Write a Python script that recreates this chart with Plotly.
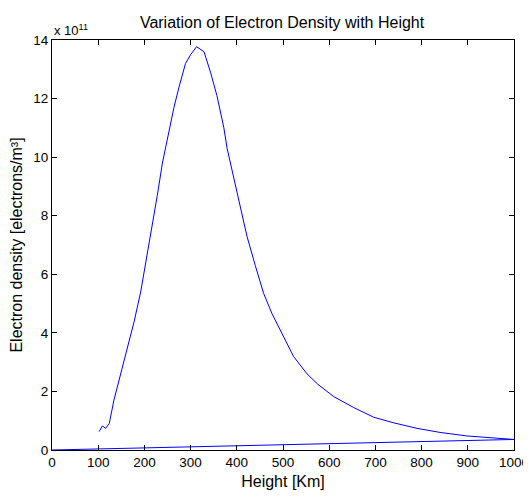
import plotly.graph_objects as go

# height [km] and electron density [1e11 electrons/m^3]
height = [102, 109, 116, 124, 134, 149, 163, 178, 192, 206, 217, 228, 239, 253,
          264, 275, 289, 300, 313, 329, 343, 357, 372, 379, 393, 408, 422, 440,
          458, 476, 498, 523, 552, 575, 610, 653, 696, 739, 790, 840,
          898, 941, 1000, 0]
density = [0.63, 0.82, 0.74, 0.91, 1.7, 2.6, 3.4, 4.4, 5.4, 6.7, 7.6, 8.7, 9.8, 10.9,
           11.7, 12.4, 13.2, 13.5, 13.77, 13.6, 12.9, 12.1, 11.0, 10.3, 9.3, 8.2, 7.3, 6.3,
           5.35, 4.66, 3.98, 3.19, 2.6, 2.25, 1.82, 1.45, 1.12, 0.93, 0.74, 0.6,
           0.48, 0.42, 0.36, 0]

x_ticks = list(range(0, 1001, 100))
y_ticks = list(range(0, 15, 2))

fig = go.Figure()
fig.add_trace(go.Scatter(x=height, y=density, mode='lines',
                         line=dict(color='#0000ff', width=1)))

axis_style = dict(showline=True, linecolor='black', linewidth=1, mirror='ticks',
                  ticks='inside', ticklen=5, tickcolor='black', showgrid=False,
                  zeroline=False, automargin=False,
                  tickfont=dict(size=13.5, color='black'))

fig.update_xaxes(range=[0, 1000], tickvals=x_ticks, **axis_style,
                 title=dict(text='Height [Km]', font=dict(size=16, color='black'), standoff=6))
fig.update_yaxes(range=[0, 14], tickvals=y_ticks, **axis_style,
                 title=dict(text='Electron density [electrons/m³]',
                            font=dict(size=16, color='black'), standoff=10))

fig.add_annotation(text='x 10<sup>11</sup>', xref='paper', yref='paper', x=0, y=1,
                   xanchor='left', yanchor='bottom', showarrow=False,
                   font=dict(size=13, color='black'))

# page body has an 8px margin, so the figure is 8px smaller than the window
fig.update_layout(
    title=dict(text='Variation of Electron Density with Height', x=0.524, xanchor='center',
               y=0.971, yanchor='middle', font=dict(size=16, color='black')),
    width=523, height=489,
    margin=dict(l=44, r=17, t=32, b=47),
    plot_bgcolor='white', paper_bgcolor='white',
    font=dict(family='Liberation Sans, Arial, sans-serif'),
    showlegend=False
)

fig.write_html("out.html")
